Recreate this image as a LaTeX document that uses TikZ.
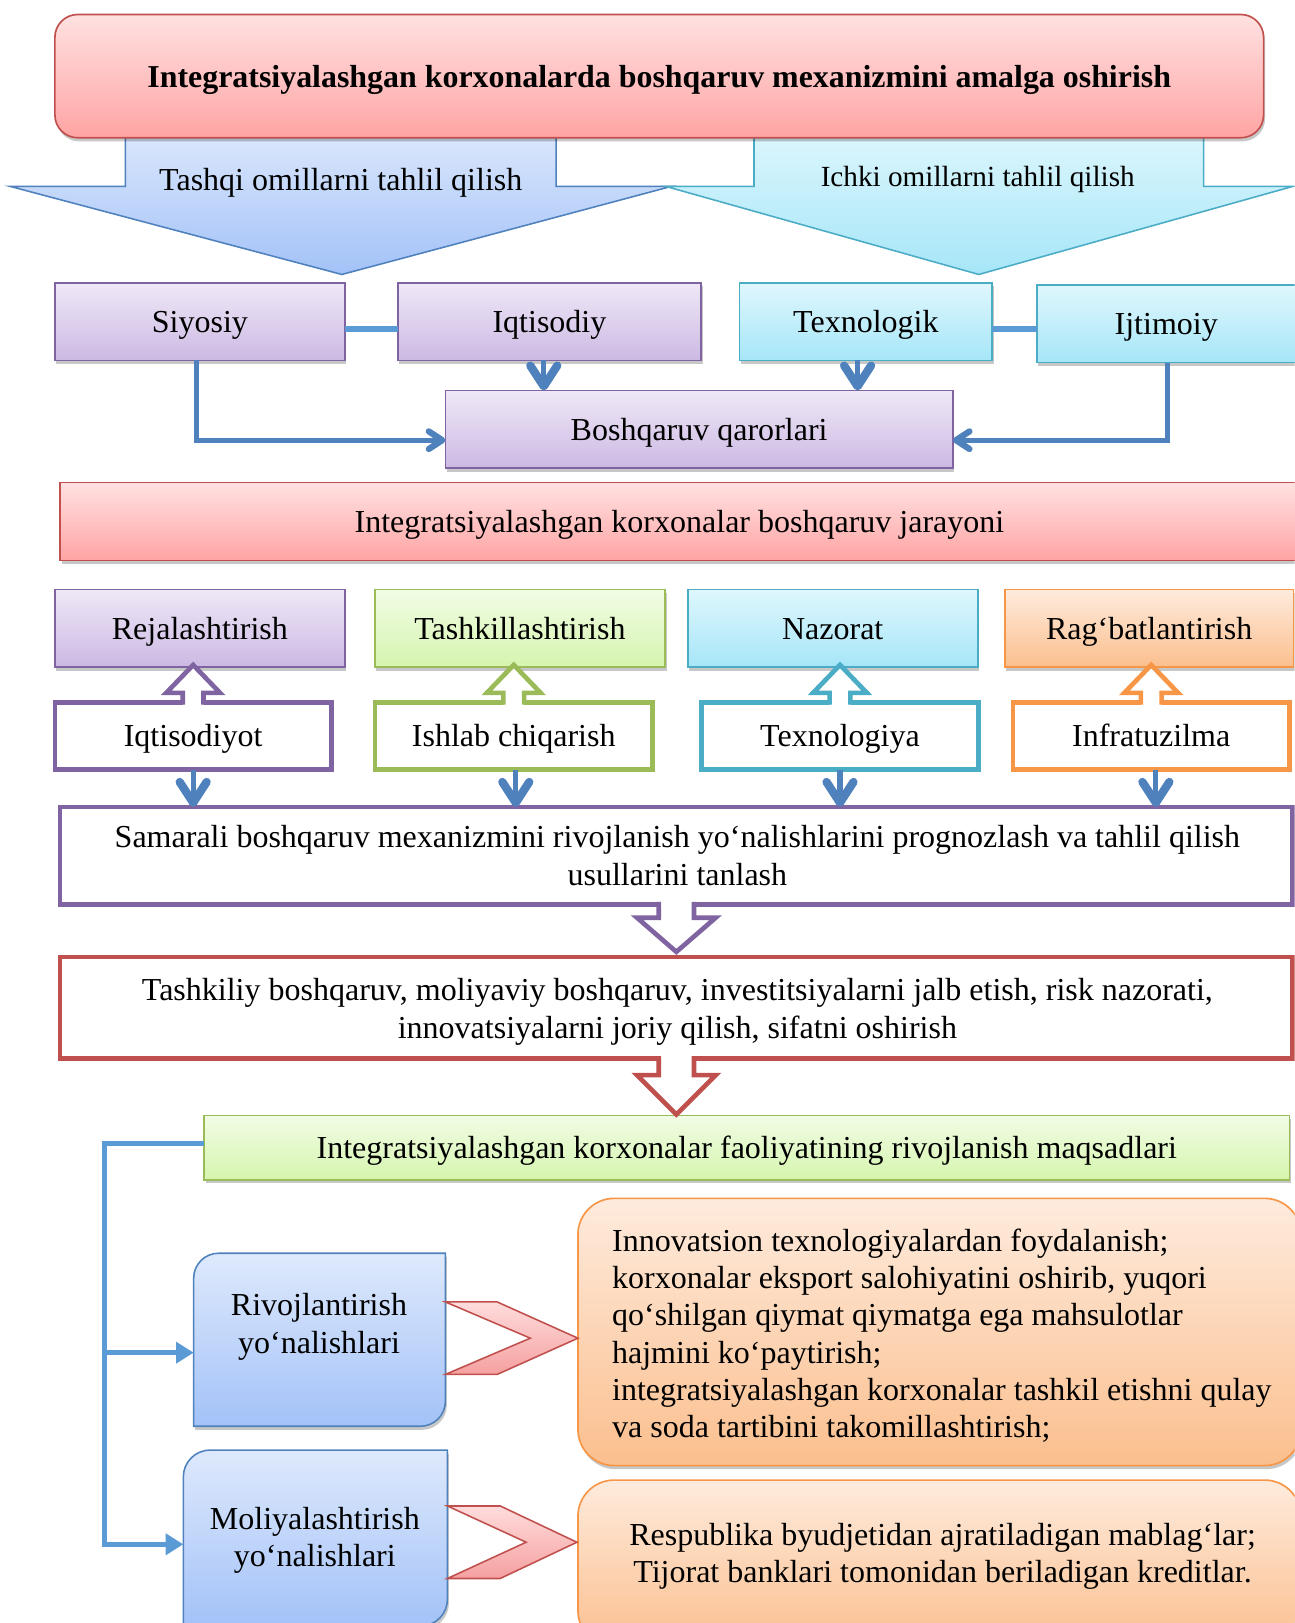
\documentclass[tikz,border=0pt]{standalone}
\usepackage{fontspec}
\setmainfont{Liberation Serif}
\usetikzlibrary{arrows.meta,shadows}
\definecolor{pinkT}{HTML}{FFE1E1}
\definecolor{pinkB}{HTML}{FFA4A4}
\definecolor{redD}{HTML}{C0504D}
\definecolor{chevT}{HTML}{FFDCDC}
\definecolor{chevB}{HTML}{F5A0A0}
\definecolor{blueT}{HTML}{DEE9FC}
\definecolor{blueB}{HTML}{A3C2F8}
\definecolor{blueD}{HTML}{4F81BD}
\definecolor{cyanT}{HTML}{DFF7FD}
\definecolor{cyanB}{HTML}{A6E6F8}
\definecolor{cyanD}{HTML}{4BACC6}
\definecolor{purT}{HTML}{EFE8F7}
\definecolor{purB}{HTML}{CCB9E3}
\definecolor{purD}{HTML}{8064A2}
\definecolor{grnT}{HTML}{F1FCE5}
\definecolor{grnB}{HTML}{D6F5AE}
\definecolor{grnD}{HTML}{9BBB59}
\definecolor{orgT}{HTML}{FEEBDD}
\definecolor{orgB}{HTML}{FBBF8E}
\definecolor{orgD}{HTML}{F79646}
\definecolor{lineB}{HTML}{5B9BD5}
\definecolor{arrB}{HTML}{4F81BD}

\tikzset{
 base/.style={font=\fontsize{30.9}{36}\selectfont, inner sep=0pt, outer sep=0pt, align=center},
 one/.style={text height=22pt, text depth=1pt},
 shd/.style={drop shadow={shadow xshift=1.5pt,shadow yshift=-3.5pt,opacity=0.22,fill=black}},
 gbox/.style={base, draw, line width=1.6pt, shd},
 purbox/.style={gbox, draw=purD, top color=purT, bottom color=purB},
 cyanbox/.style={gbox, draw=cyanD, top color=cyanT, bottom color=cyanB},
 grnbox/.style={gbox, draw=grnD, top color=grnT, bottom color=grnB},
 orgbox/.style={gbox, draw=orgD, top color=orgT, bottom color=orgB},
 pinkbox/.style={gbox, draw=redD, top color=pinkT, bottom color=pinkB},
 wbox/.style={base, draw, fill=white, line width=4.5pt},
 barrow/.style={draw=arrB, line width=5pt, -{Straight Barb[length=20pt,width=26pt,line width=8pt,round]}},
 larrow/.style={draw=arrB, line width=5pt, -{Straight Barb[length=13pt,width=17pt,line width=6pt,round]}},
 link/.style={draw=lineB, line width=6pt},
 bus/.style={draw=lineB, line width=4.5pt},
 busarrow/.style={bus, -{Triangle[length=17pt,width=20pt]}},
 chev/.style={draw=redD, line width=1.5pt, top color=chevT, bottom color=chevB},
}

\newcommand{\uparrowbox}[2]{%
 \fill[white] ([xshift=-10pt]#1.north) ++(0,2.5) -- ++(0,-11.5) -- ++(-16,0) -- ++(26,-27) -- ++(26,27) -- ++(-16,0) -- ++(0,11.5) -- cycle;
 \draw[#2, line width=4.5pt] ([xshift=-10pt]#1.north) ++(0,2.25) -- ++(0,-11.25) -- ++(-16,0) -- ++(26,-27) -- ++(26,27) -- ++(-16,0) -- ++(0,11.25);
}
\newcommand{\downblock}[4]{%
 \fill[white] ([xshift=-17pt]#1.south) ++(0,-2.5) -- ++(0,#3+2.5) -- ++(-21,0) -- ++(38,#4) -- ++(38,-#4) -- ++(-21,0) -- ++(0,-#3-2.5) -- cycle;
 \draw[#2, line width=4.5pt] ([xshift=-17pt]#1.south) ++(0,-2.25) -- ++(0,#3+2.25) -- ++(-21,0) -- ++(38,#4) -- ++(38,-#4) -- ++(-21,0) -- ++(0,-#3-2.25);
}

\begin{document}
\begin{tikzpicture}[x=1pt,y=-1pt]
\useasboundingbox (0,0) rectangle (1250,1567);
\fill[white] (0,0) rectangle (1250,1567);
\clip (0,0) rectangle (1250,1567);

% big down arrows
\path[draw=blueD, line width=1.5pt, top color=blueT, bottom color=blueB]
  (121,120) -- (537,120) -- (537,180) -- (648,180) -- (330,265) -- (10,180) -- (121,180) -- cycle;
\path[draw=cyanD, line width=1.5pt, top color=cyanT, bottom color=cyanB]
  (728,120) -- (1162,120) -- (1162,180) -- (1248,180) -- (945,265) -- (643,180) -- (728,180) -- cycle;
\node[base, one] (tashqi) at (329,173) {Tashqi omillarni tahlil qilish};
\node[base, one, font=\fontsize{28.2}{34}\selectfont] (ichki) at (944,170) {Ichki omillarni tahlil qilish};

% title
\node[pinkbox, one, rounded corners=22pt, minimum width=1167pt, minimum height=119pt,
      font=\fontsize{30.8}{36}\selectfont\bfseries] (title) at (636.5,73.5)
  {Integratsiyalashgan korxonalarda boshqaruv mexanizmini amalga oshirish};

% row 2
\node[purbox, one, minimum width=280pt, minimum height=75pt] (siy) at (193,310.5) {Siyosiy};
\node[purbox, one, minimum width=293pt, minimum height=75pt] (iqt) at (530.5,310.5) {Iqtisodiy};
\node[cyanbox, one, minimum width=244pt, minimum height=75pt] (tex) at (836,310.5) {Texnologik};
\node[cyanbox, one, minimum width=250pt, minimum height=75pt] (ijt) at (1126,312.5) {Ijtimoiy};
\node[purbox, one, minimum width=490pt, minimum height=75pt] (bq) at (675,414.5) {Boshqaruv qarorlari};

\draw[link] ([yshift=-7.5pt]siy.east) -- ([yshift=-7.5pt]iqt.west);
\draw[link] ([yshift=-7.5pt]tex.east) -- ([yshift=-5.5pt]ijt.west);
\draw[barrow] ([xshift=-5.5pt]iqt.south) -- ([xshift=-150pt]bq.north);
\draw[barrow] ([xshift=-8pt]tex.south) -- ([xshift=153pt]bq.north);
\draw[larrow] ([xshift=-3pt]siy.south) |- ([yshift=-10.5pt]bq.west);
\draw[larrow] ([xshift=1pt]ijt.south) |- ([yshift=-10.5pt]bq.east);

% row 3
\node[pinkbox, one, minimum width=1196pt, minimum height=75pt] (jar) at (656,503.5)
  {Integratsiyalashgan korxonalar boshqaruv jarayoni};

% row 4
\node[purbox, one, minimum width=280pt, minimum height=75pt] (rej) at (193,606.5) {Rejalashtirish};
\node[grnbox, one, minimum width=280pt, minimum height=75pt] (tsk) at (502,606.5) {Tashkillashtirish};
\node[cyanbox, one, minimum width=280pt, minimum height=75pt] (naz) at (804,606.5) {Nazorat};
\node[orgbox, one, minimum width=279pt, minimum height=75pt] (rag) at (1109.5,606.5) {Rag‘batlantirish};

% row 5
\node[wbox, one, draw=purD, minimum width=267pt, minimum height=65pt] (iqt2) at (186.5,710.5) {Iqtisodiyot};
\node[wbox, one, draw=grnD, minimum width=268pt, minimum height=65pt] (ish) at (496,710.5) {Ishlab chiqarish};
\node[wbox, one, draw=cyanD, minimum width=268pt, minimum height=65pt] (tex2) at (811,710.5) {Texnologiya};
\node[wbox, one, draw=orgD, minimum width=267pt, minimum height=65pt] (inf) at (1111.5,710.5) {Infratuzilma};

\uparrowbox{iqt2}{purD}
\uparrowbox{ish}{grnD}
\uparrowbox{tex2}{cyanD}
\uparrowbox{inf}{orgD}

% samarali
\node[wbox, draw=purD, minimum width=1190pt, minimum height=94pt] (sam) at (653,826) {};
\node[base] (samt) at (654,826)
  {Samarali boshqaruv mexanizmini rivojlanish yo‘nalishlarini prognozlash va tahlil qilish\\usullarini tanlash};
\draw[barrow] (iqt2.south) -- (iqt2.south |- sam.north);
\draw[barrow] ([xshift=2pt]ish.south) -- ([xshift=2pt]ish.south |- sam.north);
\draw[barrow] (tex2.south) -- (tex2.south |- sam.north);
\draw[barrow] ([xshift=4.5pt]inf.south) -- ([xshift=4.5pt]inf.south |- sam.north);

\node[wbox, draw=redD, minimum width=1190pt, minimum height=98pt] (tkb) at (653,973) {};
\node[base] (tkbt) at (654,977)
  {Tashkiliy boshqaruv, moliyaviy boshqaruv, investitsiyalarni jalb etish, risk nazorati,\\innovatsiyalarni joriy qilish, sifatni oshirish};

\node[grnbox, one, minimum width=1048pt, minimum height=62pt] (grn) at (721,1108)
  {Integratsiyalashgan korxonalar faoliyatining rivojlanish maqsadlari};

\downblock{sam}{purD}{13}{33}
\downblock{tkb}{redD}{16}{38}

% bottom left boxes
\path[draw=blueD, line width=1.5pt, top color=blueT, bottom color=blueB, shd]
  (187,1377) -- (187,1234) .. controls (187,1220.75) and (197.75,1210) .. (211,1210)
  -- (430,1210) -- (430,1353) .. controls (430,1366.25) and (419.25,1377) .. (406,1377) -- cycle;
\node[base, minimum width=243pt, minimum height=167pt] (riv) at (308.5,1293.5) {};
\node[base] (rivt) at (308,1281) {Rivojlantirish\\yo‘nalishlari};

\path[draw=blueD, line width=1.5pt, top color=blueT, bottom color=blueB, shd]
  (177,1570) -- (177,1426) .. controls (177,1411.64) and (188.64,1400) .. (203,1400)
  -- (432,1400) -- (432,1544) .. controls (432,1558.36) and (420.36,1570) .. (406,1570) -- cycle;
\node[base, minimum width=255pt, minimum height=170pt] (mol) at (304.5,1485) {};
\node[base] (molt) at (304,1487.5) {Moliyalashtirish\\yo‘nalishlari};

\draw[busarrow] ([yshift=4pt]grn.west) -- ++(-96,0) |- ([yshift=-12.5pt]riv.west);
\draw[busarrow] ([yshift=4pt]grn.west) -- ++(-96,0) |- ([yshift=-6pt]mol.west);

% orange boxes
\node[orgbox, rounded corners=35pt, minimum width=698pt, minimum height=258pt] (o1) at (907,1286) {};
\node[base, align=left, anchor=west] (o1t) at (591,1289.5)
  {Innovatsion texnologiyalardan foydalanish;\\korxonalar eksport salohiyatini oshirib, yuqori\\qo‘shilgan qiymat qiymatga ega mahsulotlar\\hajmini ko‘paytirish;\\integratsiyalashgan korxonalar tashkil etishni qulay\\va soda tartibini takomillashtirish;};
\node[orgbox, rounded corners=35pt, minimum width=698pt, minimum height=161pt] (o2) at (907,1509.5) {};
\node[base] (o2t) at (910,1502.5)
  {Respublika byudjetidan ajratiladigan mablag‘lar;\\Tijorat banklari tomonidan beriladigan kreditlar.};

% chevrons
\path[chev] ([yshift=36.5pt]riv.east) -- ++(50,0) -- ++(78,35) -- ++(-78,35) -- ++(-50,0) -- ++(82,-35) -- cycle;
\path[chev] ([yshift=31pt]mol.east) -- ++(51,0) -- ++(74,35) -- ++(-74,35) -- ++(-51,0) -- ++(76,-35) -- cycle;
\end{tikzpicture}
\end{document}
